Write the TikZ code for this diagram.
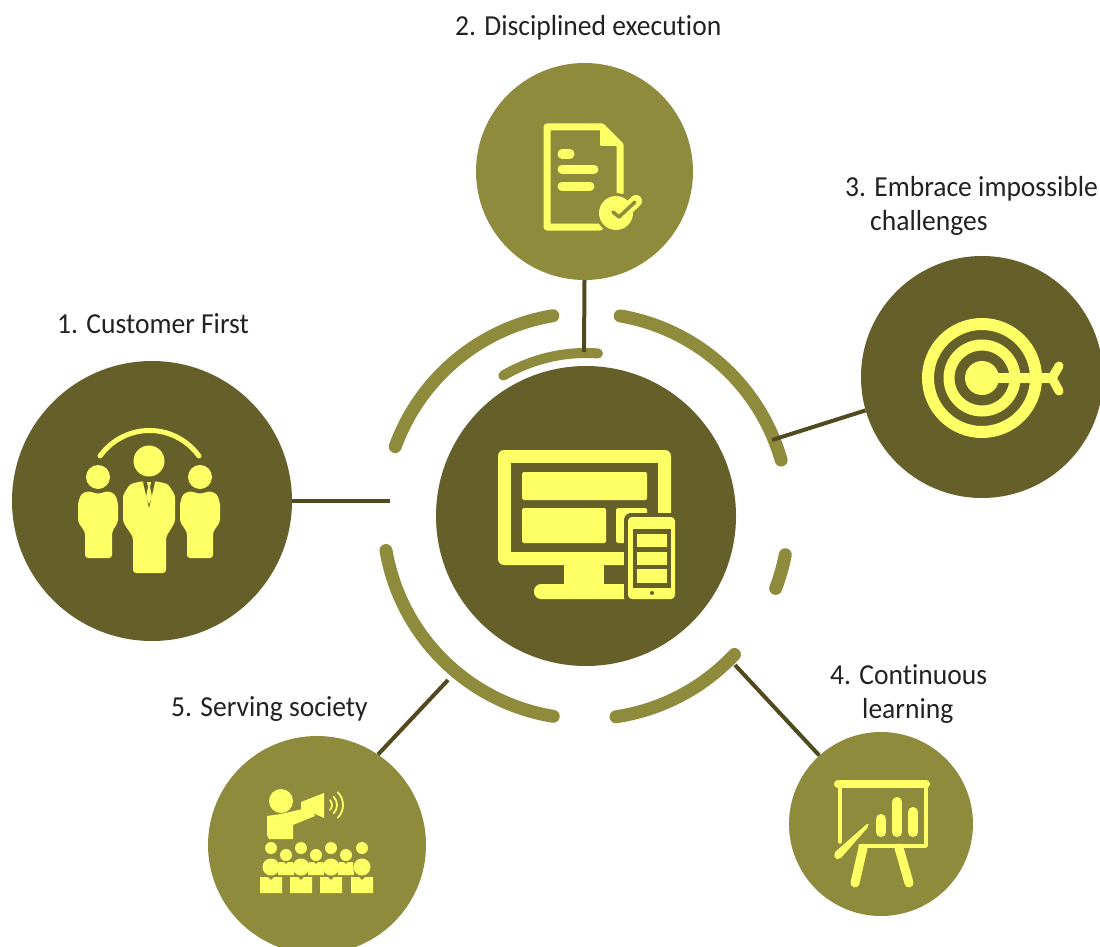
\documentclass[tikz,border=0pt]{standalone}
\usepackage{fontspec}
\setmainfont[FakeStretch=0.95,Ligatures=NoCommon]{Carlito}
\definecolor{darkol}{HTML}{655F2A}
\definecolor{midol}{HTML}{8F8B3C}
\definecolor{linkc}{HTML}{4F4B1E}
\definecolor{icony}{HTML}{FFFF66}
\definecolor{txt}{HTML}{222222}
\tikzset{
  disc/.style={circle,inner sep=0pt,minimum size=#1},
  darkdisc/.style={disc=#1,fill=darkol},
  middisc/.style={disc=#1,fill=midol},
  link/.style={draw=linkc,line width=4pt},
  ring/.style={draw=midol,line width=13pt,line cap=round},
  lbl/.style={text=txt,font=\fontsize{29}{34}\selectfont,inner sep=0pt,anchor=base west},
  ic/.style={fill=icony,draw=none},
  icl/.style={draw=icony,line cap=round,line join=round},
  neg/.style={fill=darkol,draw=none},
}
\newcommand{\ringarc}[3]{\draw[ring,#3] (cc) ++(#1:203) arc[start angle=#1,end angle=#2,radius=203];}
\begin{document}
\begin{tikzpicture}[x=1pt,y=-1pt]
\useasboundingbox (0,0) rectangle (1100,947);
\clip (0,0) rectangle (1100,947);
\coordinate (cc) at (586,516);
\coordinate (e1) at (390,501);
\coordinate (e2) at (584,352);
\coordinate (e3) at (772,440);
\coordinate (e4) at (735,665);
\coordinate (e5) at (448,680);
% rings
\ringarc{200}{260.6}{}
\ringarc{279.7}{344}{}
\ringarc{11}{20.9}{}
\ringarc{43}{81.5}{}
\ringarc{99.3}{170.2}{}
\draw[ring,line width=10pt] (cc) ++(239.5:163) arc[start angle=239.5,end angle=274.2,radius=163];
% discs
\node[darkdisc=300pt] (hub) at (586,516) {};
\node[darkdisc=280pt] (n1) at (152,501) {};
\node[middisc=217pt] (n2) at (584.5,171.5) {};
\node[darkdisc=242pt] (n3) at (982,377) {};
\node[middisc=184pt] (n4) at (881,824) {};
\node[middisc=218pt] (n5) at (317,845) {};
% connectors
\draw[link] (n1) -- (e1);
\draw[link] (n2.south) -- (e2);
\draw[link] (n3.196) -- (e3);
\draw[link] (n4.132) -- (e4);
\draw[link] (n5.56) -- (e5);
% labels
\node[lbl] (l1) at (57,333) {1. Customer First};
\node[lbl] (l2) at (455,36) {2. Disciplined execution};
\node[lbl] (l3a) at (845,196) {3. Embrace impossible};
\node[lbl] (l3b) at (870,230) {challenges};
\node[lbl] (l4a) at (830,684) {4. Continuous};
\node[lbl] (l4b) at (862,718) {learning};
\node[lbl] (l5) at (171,716) {5. Serving society};
% hub icon
\fill[ic,rounded corners=6pt] (498,450) rectangle (671,565);
\fill[neg] (511,463) rectangle (658,552);
\fill[ic,rounded corners=1.5pt] (522,472) rectangle (647,500);
\fill[ic,rounded corners=1.5pt] (522,508) rectangle (606,543);
\fill[ic,rounded corners=1.5pt] (616,508) rectangle (647,543);
\fill[ic] (564,565) rectangle (604,586);
\fill[ic,rounded corners=7pt] (534,584) rectangle (640,599);
\fill[neg,rounded corners=7pt] (624,513) rectangle (680,604);
\fill[ic,rounded corners=4pt] (628,517) rectangle (675,599);
\fill[neg] (633,529) rectangle (671,588);
\fill[ic] (637,534) rectangle (667,547);
\fill[ic] (637,552) rectangle (667,565);
\fill[ic] (637,569) rectangle (667,583);
\fill[neg] (652,593) circle[radius=2];
% icon 1
\draw[icl,line width=5pt] (100,456) .. controls (125,422) and (174,422) .. (199,456);
\fill[ic] (149,461) circle[radius=15.5];
\fill[ic] (98,477) circle[radius=12];
\fill[ic] (200,477) circle[radius=12];
\fill[ic,rounded corners=3pt] (143,481) -- (149,484) -- (155,481) -- (168,484) -- (175,495) -- (175,522) -- (166,537) -- (166,573) -- (133,573) -- (133,537) -- (123,522) -- (123,495) -- (130,484) -- cycle;
\fill[neg] (143,482) -- (155,482) -- (149,508) -- cycle;
\fill[ic] (147,482) -- (151,482) -- (150,487) -- (152,497) -- (149,504) -- (146,497) -- (148,487) -- cycle;
\fill[ic,rounded corners=3pt] (98,494) -- (108,491) -- (115,494) -- (118,503) -- (118,522) -- (112,532) -- (112,558) -- (85,558) -- (85,532) -- (78,522) -- (78,503) -- (81,494) -- (88,491) -- cycle;
\fill[ic,rounded corners=3pt] (200,494) -- (210,491) -- (217,494) -- (220,503) -- (220,522) -- (213,532) -- (213,558) -- (187,558) -- (187,532) -- (180,522) -- (180,503) -- (183,494) -- (190,491) -- cycle;
% icon 2
\draw[icl,line width=7pt] (620,193) -- (620,145) -- (602,127) -- (547,127) -- (547,227) -- (600,227);
\fill[ic,rounded corners=1pt] (600,125) -- (600,146) -- (623,146) -- cycle;
\draw[icl,line width=9pt] (562,154) -- (570,154);
\draw[icl,line width=9pt] (562,169) -- (594,169);
\draw[icl,line width=9pt] (562,186) -- (590,186);
\fill[midol] (616,213) circle[radius=20];
\fill[ic] (616,213) circle[radius=17];
\draw[icl,line width=12pt] (619,217) -- (636,201);
\draw[draw=midol,line width=3.5pt,line cap=round,line join=round] (613,212) -- (619,217) -- (635,202);
% icon 3
\draw[icony,line width=12pt] (982,378) circle[radius=54];
\draw[icony,line width=11pt] (982,378) circle[radius=33];
\fill[ic] (982,378) circle[radius=17];
\draw[icony,line width=10pt] (982,378) -- (1052,378);
\draw[icl,line width=9pt] (1059,366) -- (1052,378) -- (1059,391);
% icon 4
\draw[icl,line width=8pt] (838,784) -- (926,784);
\draw[icl,line width=3.5pt] (840,784) -- (840,842);
\draw[icl,line width=3.5pt] (926,784) -- (926,846) -- (860,846);
\draw[icl,line width=10pt] (881,819) -- (881,832);
\draw[icl,line width=10pt] (897,802) -- (897,832);
\draw[icl,line width=10pt] (913,812) -- (913,832);
\fill[ic,rounded corners=2pt] (834,853) -- (868,823) -- (869,826) -- (840,859) -- (835,859) -- cycle;
\draw[icl,line width=9pt] (863,848) -- (855,883);
\draw[icl,line width=9pt] (899,848) -- (909,883);
% icon 5
\fill[ic] (281,801) circle[radius=12];
\fill[ic] (267,816) -- (281,814) -- (311,807) -- (315,816) -- (293,825) -- (293,839) -- (269,839) -- (267,835) -- cycle;
\fill[ic] (301,802) -- (324,793) -- (324,818) -- (313,813) -- (301,812) -- cycle;
\draw[icl,line width=1.8pt] (325,805) ++(-45:7) arc[start angle=-45,end angle=45,radius=7];
\draw[icl,line width=1.8pt] (325,805) ++(-45:12) arc[start angle=-45,end angle=45,radius=12];
\draw[icl,line width=1.8pt] (325,805) ++(-45:18) arc[start angle=-45,end angle=45,radius=18];
\foreach \hx in {271,301,331,362} {
  \fill[ic] (\hx,848) circle[radius=6];
  \fill[ic] (\hx,867) circle[radius=8.5];
  \fill[ic] (\hx-11,877) -- (\hx-3,877) -- (\hx,880) -- (\hx+3,877) -- (\hx+11,877) -- (\hx+11,893) -- (\hx-11,893) -- cycle;
}
\foreach \hx in {286,316,346} {
  \fill[ic] (\hx,855) circle[radius=6];
  \fill[ic] (\hx-7,862) -- (\hx-2,862) -- (\hx,864) -- (\hx+2,862) -- (\hx+7,862) -- (\hx+8,875) -- (\hx-8,875) -- cycle;
}
\end{tikzpicture}
\end{document}
